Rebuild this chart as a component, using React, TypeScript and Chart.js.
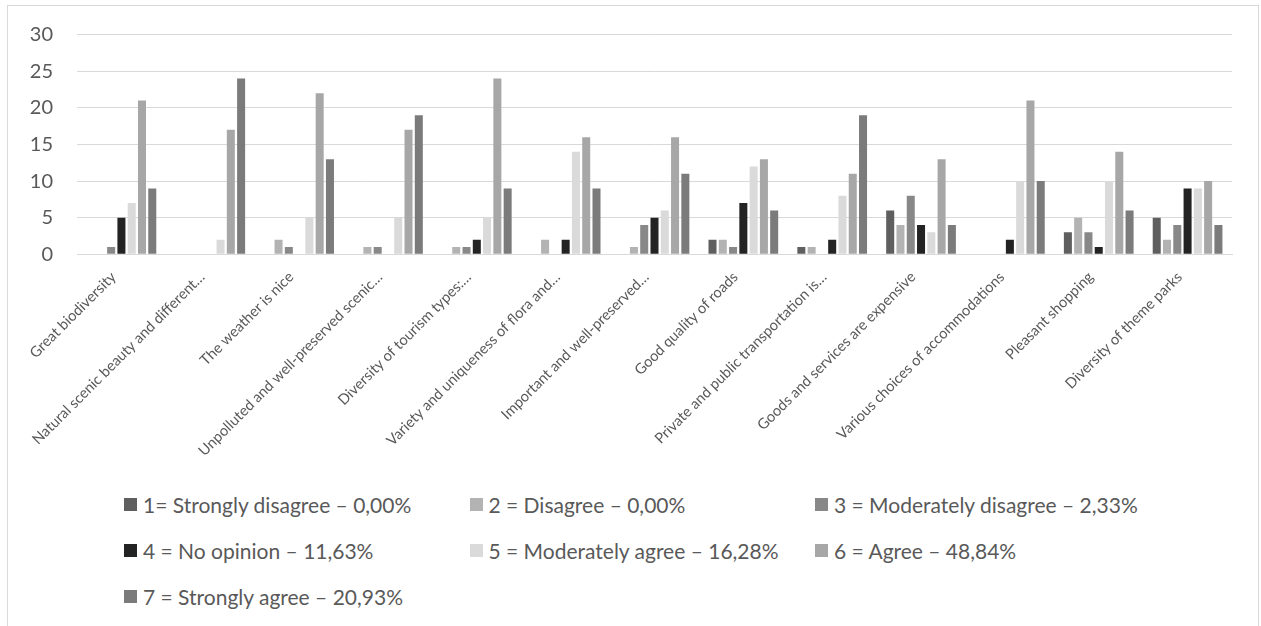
import React, { useEffect, useRef } from "react";
import { Chart, registerables } from "chart.js";

Chart.register(...registerables);

// Survey statements shown along the x axis (long ones truncated with an ellipsis)
const categories = [
  "Great biodiversity",
  "Natural scenic beauty and different…",
  "The weather is nice",
  "Unpolluted and well-preserved scenic…",
  "Diversity of tourism types:…",
  "Variety and uniqueness of flora and…",
  "Important and well-preserved…",
  "Good quality of roads",
  "Private and public transportation is…",
  "Goods and services are expensive",
  "Various choices of accommodations",
  "Pleasant shopping",
  "Diversity of theme parks",
];

// Legend labels for the seven answer levels
const seriesNames = [
  "1= Strongly disagree – 0,00%",
  "2 = Disagree – 0,00%",
  "3 = Moderately disagree – 2,33%",
  "4 = No opinion – 11,63%",
  "5 = Moderately agree – 16,28%",
  "6 = Agree – 48,84%",
  "7 = Strongly agree – 20,93%",
];

// Number of respondents per answer level, one value per statement
const stronglyDisagree = [0, 0, 0, 0, 0, 0, 0, 2, 1, 6, 0, 3, 5];
const disagree = [0, 0, 2, 1, 1, 2, 1, 2, 1, 4, 0, 5, 2];
const moderatelyDisagree = [1, 0, 1, 1, 1, 0, 4, 1, 0, 8, 0, 3, 4];
const noOpinion = [5, 0, 0, 0, 2, 2, 5, 7, 2, 4, 2, 1, 9];
const moderatelyAgree = [7, 2, 5, 5, 5, 14, 6, 12, 8, 3, 10, 10, 9];
const agree = [21, 17, 22, 17, 24, 16, 16, 13, 11, 13, 21, 14, 10];
const stronglyAgree = [9, 24, 13, 19, 9, 9, 11, 6, 19, 4, 10, 6, 4];

const yMin = 0;
const yMax = 30;
const yStep = 5;

const seriesColors = [
  "#5f5f5f",
  "#b3b3b3",
  "#888888",
  "#232323",
  "#dadada",
  "#a7a7a7",
  "#7b7b7b",
];

const seriesValues = [
  stronglyDisagree,
  disagree,
  moderatelyDisagree,
  noOpinion,
  moderatelyAgree,
  agree,
  stronglyAgree,
];

const FONT = "Lato, 'Open Sans', sans-serif";
const TEXT = "#595959";
const GRID = "#d9d9d9";

export default function App() {
  const canvasRef = useRef<HTMLCanvasElement | null>(null);

  useEffect(() => {
    if (!canvasRef.current) return;
    const chart = new Chart(canvasRef.current, {
      type: "bar",
      data: {
        labels: categories,
        datasets: seriesValues.map((values, i) => ({
          label: seriesNames[i],
          data: values,
          backgroundColor: seriesColors[i],
          borderWidth: 0,
          categoryPercentage: 0.81,
          barPercentage: 0.78,
        })),
      },
      options: {
        responsive: false,
        animation: false,
        layout: { padding: { top: 28.7, right: 26, bottom: 0, left: 0 } },
        plugins: {
          legend: { display: false },
          tooltip: { enabled: false },
        },
        scales: {
          x: {
            grid: { display: false, drawTicks: false },
            border: { color: GRID, width: 1 },
            ticks: {
              autoSkip: false,
              minRotation: 45,
              maxRotation: 45,
              padding: 14,
              labelOffset: -8,
              color: TEXT,
              font: { family: FONT, size: 14.7 },
            },
            afterFit: (scale: any) => {
              scale.height = 209.7;
            },
          },
          y: {
            min: yMin,
            max: yMax,
            grid: { color: GRID, lineWidth: 1, drawTicks: false },
            border: { display: false },
            ticks: {
              stepSize: yStep,
              padding: 24,
              color: TEXT,
              font: { family: FONT, size: 20 },
            },
            afterFit: (scale: any) => {
              // fixed axis width; label padding should not push the plot down
              scale.width = 69;
              scale.paddingTop = 0;
              scale.paddingBottom = 0;
            },
          },
        },
      },
    });
    return () => chart.destroy();
  }, []);

  return (
    <div
      style={{
        position: "absolute",
        left: 7,
        top: 5,
        width: 1250,
        height: 640,
        border: `1px solid ${GRID}`,
        background: "#fff",
        fontFamily: FONT,
      }}
    >
      <canvas
        ref={canvasRef}
        width={1250}
        height={458}
        style={{ display: "block", width: 1250, height: 458 }}
      />
      <div
        style={{
          position: "absolute",
          left: 116,
          top: 475,
          display: "grid",
          gridTemplateColumns: "345.5px 345.5px 345.5px",
          gridAutoRows: "46px",
          color: TEXT,
          fontSize: 21,
        }}
      >
        {seriesNames.map((name, i) => (
          <div
            key={name}
            style={{ display: "flex", alignItems: "center", whiteSpace: "nowrap" }}
          >
            <span
              style={{
                display: "inline-block",
                width: 13,
                height: 13,
                background: seriesColors[i],
                marginRight: 6,
              }}
            />
            <span>{name}</span>
          </div>
        ))}
      </div>
    </div>
  );
}
